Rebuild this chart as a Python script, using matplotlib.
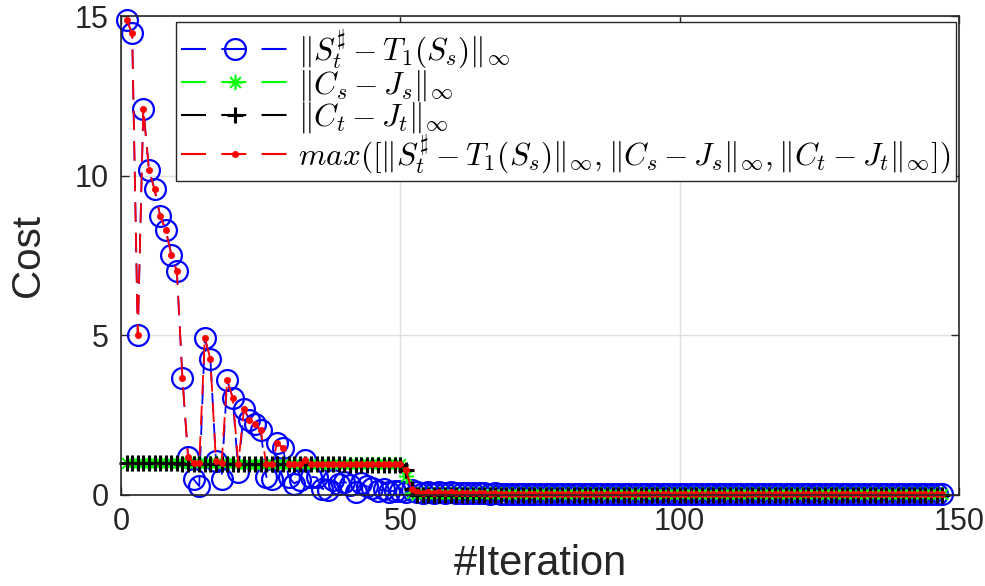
import matplotlib
matplotlib.use("Agg")
import matplotlib.pyplot as plt
import numpy as np
from matplotlib.lines import Line2D
from matplotlib.path import Path

plt.rcParams['font.family'] = ['Liberation Sans', 'DejaVu Sans']
plt.rcParams['mathtext.fontset'] = 'cm'
plt.rcParams['lines.scale_dashes'] = False

# ---------------- data ----------------
iterations = list(range(1, 148))

s_err = ([14.87, 14.46, 5.02, 12.1, 10.19, 9.57, 8.75, 8.30, 7.53, 7.0,
          3.65, 1.2, 0.49, 0.28, 4.92, 4.25, 1.05, 0.5, 3.59, 3.04,
          0.73, 2.69, 2.36, 2.21, 2.03, 0.57, 0.5, 1.64, 1.46, 0.57,
          0.36, 0.47, 1.1, 0.57, 0.55, 0.2, 0.16, 0.47, 0.35, 0.42,
          0.3, 0.1, 0.37, 0.27, 0.22, 0.12, 0.18, 0.1, 0.14, 0.12,
          0.08, 0.16, 0.10, 0.07, 0.08, 0.06, 0.08, 0.05, 0.09, 0.06,
          0.05, 0.07, 0.06, 0.05, 0.05, 0.04, 0.05, 0.04, 0.04, 0.03]
         + [0.03] * 20 + [0.02] * 57)

cs_err = ([1.0] * 10 + [0.99] * 10 + [0.98] * 10 + [0.97] * 10 + [0.96] * 10
          + [0.6, 0.05] + [0.02] * 95)

ct_err = ([0.99] * 10 + [0.98] * 10 + [0.97] * 10 + [0.96] * 10 + [0.95] * 10
          + [0.78, 0.18] + [0.01] * 95)

max_err = list(np.maximum(np.maximum(s_err, cs_err), ct_err))

labels = [r'$\|S_t^\sharp - T_1(S_s)\|_\infty$',
          r'$\|C_s - J_s\|_\infty$',
          r'$\|C_t - J_t\|_\infty$',
          r'$max([\|S_t^\sharp - T_1(S_s)\|_\infty,\|C_s - J_s\|_\infty,\|C_t - J_t\|_\infty])$']

# ---------------- style ----------------
ast_path = Path([(0, -1), (0, 1), (-1, 0), (1, 0),
                 (-0.707, -0.707), (0.707, 0.707), (-0.707, 0.707), (0.707, -0.707)],
                [Path.MOVETO, Path.LINETO] * 4)

dash = (14, 8)
styles = [
    dict(color='#0000ff', marker='o', ms=15, mfc='none', mec='#0000ff', mew=1.6),
    dict(color='#00ff00', marker=ast_path, ms=11, mfc='none', mec='#00ff00', mew=1.5),
    dict(color='#000000', marker='+', ms=12, mec='#000000', mew=2.2),
    dict(color='#ff0000', marker='o', ms=4.5, mfc='#ff0000', mec='#ff0000', mew=0.5),
]
series = [s_err, cs_err, ct_err, max_err]

fig = plt.figure(figsize=(9.85, 5.86), dpi=100)
ax = fig.add_axes([121 / 985, 1 - 495 / 586, (959 - 121) / 985, (495 - 16) / 586])

for ys, st in zip(series, styles):
    ax.plot(iterations, ys, linestyle='--', dashes=dash, lw=1.3, clip_on=False, **st)

ax.set_xlim(0, 150)
ax.set_ylim(0, 15)
ax.set_xticks([0, 50, 100, 150])
ax.set_yticks([0, 5, 10, 15])
ax.grid(True, color='#e0e0e0', lw=1.0)
ax.set_axisbelow(True)
for sp in ax.spines.values():
    sp.set_color('#262626')
    sp.set_linewidth(1.2)
ax.tick_params(direction='in', length=6, width=1.0, colors='#262626',
               top=True, right=True, labelsize=22, pad=9)
ax.set_xlabel('#Iteration', fontsize=30, color='#262626', labelpad=5)
ax.set_ylabel('Cost', fontsize=29, color='#262626', labelpad=20)

handles = [Line2D([], [], linestyle='--', dashes=(18, 11), lw=1.5, **st) for st in styles]
leg = ax.legend(handles, labels, loc='upper right', bbox_to_anchor=(0.996, 0.988),
                fontsize=22.6, handlelength=3.4, handletextpad=0.3, labelspacing=-0.08,
                borderpad=0.18, borderaxespad=0.0, fancybox=False, framealpha=1,
                edgecolor='#262626', numpoints=1)
leg.get_frame().set_linewidth(1.0)

fig.savefig('out.png', dpi=100)
